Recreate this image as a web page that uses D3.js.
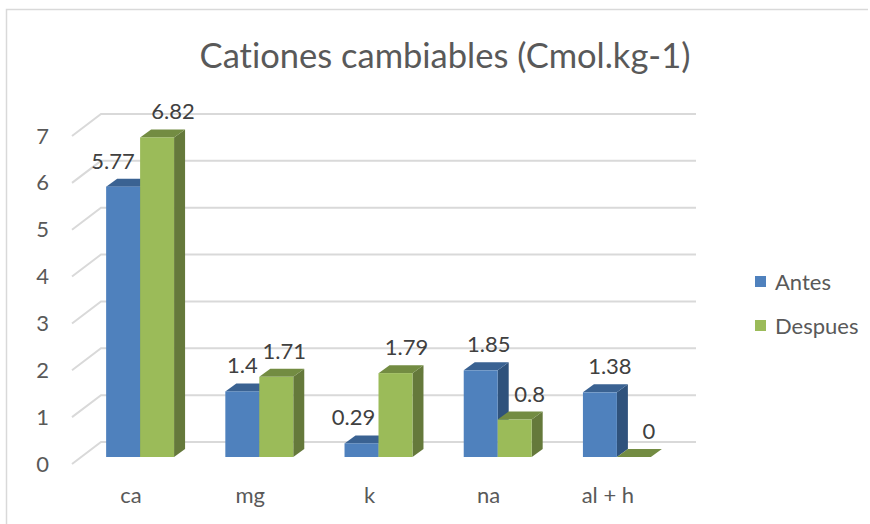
<!DOCTYPE html>
<html><head><meta charset="utf-8">
<script src="https://cdn.jsdelivr.net/npm/d3@7"></script>
<style>html,body{margin:0;background:#fff}svg{display:block}text{font-family:Lato,"Open Sans",sans-serif;font-variant-ligatures:none}</style>
</head><body><svg id="c" width="870" height="524"></svg>
<script>
const categories = ["ca","mg","k","na","al + h"];
const seriesNames = ["Antes","Despues"];
const antes = [5.77,1.4,0.29,1.85,1.38];
const despues = [6.82,1.71,1.79,0.8,0];
const yTicks = [0,1,2,3,4,5,6,7];
const titleText = "Cationes cambiables (Cmol.kg-1)";
// hand-placed label offsets from each bar centre, as in the reference
const labelNudgeAntes = [-10,0,-8,8,10];
const labelNudgeDespues = [16,8,11,15,15];

const colours = {
  Antes:{front:"#4f81bd",top:"#3a6292",side:"#2f527c"},
  Despues:{front:"#9bbb59",top:"#738c42",side:"#65793b"}
};
const svg = d3.select("#c");
const depth = {barX:11, barY:8, floorX:29, floorY:22, barFront:15};
const y = d3.scaleLinear().domain([0,7]).range([442,114]);
const x = d3.scaleBand().domain(categories).range([80.5,676.5]).paddingInner(.43).paddingOuter(.215);
const xs = d3.scaleBand().domain(seriesNames).range([0,x.bandwidth()]);

// frame
svg.append("path").attr("d",`M6.5,524V9.5H868`).attr("fill","none").attr("stroke","#d9d9d9").attr("stroke-width",1.5);

// title
svg.append("text").attr("x",445).attr("y",68).attr("text-anchor","middle")
  .attr("font-size",34.5).attr("fill","#595959").text(titleText);

// gridlines on wall + side wall
const grid = svg.append("g").attr("fill","none").attr("stroke","#d9d9d9").attr("stroke-width",2);
yTicks.forEach(t=>{
  const yy=y(t);
  grid.append("path").attr("d",`M${101-depth.floorX},${yy+depth.floorY}L101,${yy}H696`);
});

// y axis labels
const axisG = svg.append("g").attr("transform",`translate(49,${depth.floorY})`)
  .call(d3.axisLeft(y).tickValues(yTicks).tickSize(0).tickPadding(0).tickFormat(d3.format("d")));
axisG.select(".domain").remove();
axisG.selectAll("text").attr("font-size",22).attr("fill","#595959").style("font-family","Lato,'Open Sans',sans-serif");

// category labels
const xAxisG = svg.append("g").attr("transform","translate(-9,0)");
xAxisG.selectAll("text").data(categories).join("text")
  .attr("x",d=>x(d)+x.bandwidth()/2).attr("y",503).attr("text-anchor","middle")
  .attr("font-size",22).attr("fill","#595959").text(d=>d);

// bars
function drawSeries(name,vals,nudge){
  const col=colours[name];
  const g=svg.append("g");
  const base=y(0)+depth.barFront;
  vals.forEach((v,i)=>{
    const x0=x(categories[i])+xs(name), x1=x0+xs.bandwidth();
    const top=y(v)+depth.barFront;
    g.append("path").attr("fill",col.side)
      .attr("d",`M${x1},${top}L${x1+depth.barX},${top-depth.barY}V${base-depth.barY}L${x1},${base}Z`);
    g.append("path").attr("fill",col.top)
      .attr("d",`M${x0},${top}L${x0+depth.barX},${top-depth.barY}H${x1+depth.barX}L${x1},${top}Z`);
    g.append("rect").attr("x",x0).attr("y",top).attr("width",x1-x0).attr("height",base-top).attr("fill",col.front);
  });
  return ()=>{
    svg.append("g").selectAll("text").data(vals).join("text")
      .attr("x",(v,i)=>x(categories[i])+xs(name)+xs.bandwidth()/2+nudge[i])
      .attr("y",v=>y(v)+depth.barFront-18)
      .attr("text-anchor","middle").attr("font-size",22).attr("fill","#404040").text(v=>String(v));
  };
}
const l1=drawSeries("Antes",antes,labelNudgeAntes);
const l2=drawSeries("Despues",despues,labelNudgeDespues);
l1();l2();

// legend
const legendY=d3.scalePoint().domain(seriesNames).range([282,326]);
const leg=svg.append("g");
seriesNames.forEach(n=>{
  leg.append("rect").attr("x",755).attr("y",legendY(n)-6).attr("width",11).attr("height",11).attr("fill",colours[n].front);
  leg.append("text").attr("x",775).attr("y",legendY(n)+7.5).attr("font-size",22).attr("fill","#595959").text(n);
});
</script></body></html>
